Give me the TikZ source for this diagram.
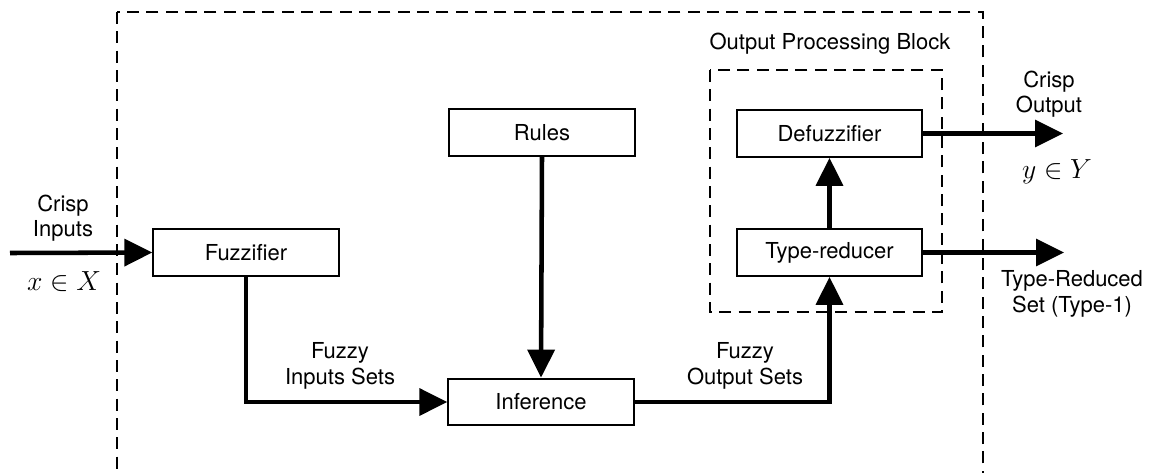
\documentclass[tikz,border=0pt]{standalone}
\usepackage{fontspec}
\setmainfont{TeX Gyre Heros}
\usetikzlibrary{arrows.meta}

\begin{document}
\begin{tikzpicture}[x=0.75pt, y=-0.75pt,
    font=\fontsize{16.5}{19}\selectfont,
    block/.style={draw, line width=1.5pt, minimum width=139pt, minimum height=35pt, inner sep=0pt},
    flow/.style={line width=3.4pt, -{Triangle[length=21pt, width=20pt]}},
    frame/.style={line width=0.8pt, dash pattern=on 9pt off 5.5pt},
    label/.style={align=center, inner sep=0pt},
    mathlabel/.style={inner sep=0pt, font=\fontsize{22}{24}\selectfont}]

  % Page size and clipping of the open system frame
  \useasboundingbox (0,0) rectangle (1153,472);
  \clip (0,0) rectangle (1153,472);

  % Dashed frames
  \draw[frame] (117,12) rectangle (983,520);
  \draw[frame] (710,70) rectangle (942,312);
  \node[label] (opb) at (830,44) {Output Processing Block};

  % Processing blocks
  \node[block] (fuzz)   at (246,252.5) {Fuzzifier};
  \node[block] (rules)  at (542,132.5) {Rules};
  \node[block] (infer)  at (541,402)   {Inference};
  \node[block] (defuzz) at (829.5,133.5) {Defuzzifier};
  \node[block] (tred)   at (829.5,252.5) {Type-reducer};

  % Free ends of the input and output arrows
  \coordinate (xin)  at (10,253);
  \coordinate (yout) at (1063,133.5);
  \coordinate (tout) at (1064,252.5);

  % Signal flow
  \draw[flow] (xin) -- (fuzz.west);
  \draw[flow] (fuzz.south) |- (infer.west);
  \draw[flow] (rules.south) -- (infer.north);
  \draw[flow] (infer.east) -| (tred.south);
  \draw[flow] (tred.north) -- (defuzz.south);
  \draw[flow] (defuzz.east) -- (yout);
  \draw[flow] (tred.east) -- (tout);

  % Signal labels
  \node[label] (cin)  at (63,218)   {Crisp\\Inputs};
  \node[mathlabel] (xval) at (64,282)  {$x\in X$};
  \node[label] (fis)  at (340,366)  {Fuzzy\\Inputs Sets};
  \node[label] (fos)  at (745,366)  {Fuzzy\\Output Sets};
  \node[label] (cout) at (1049,94)  {Crisp\\Output};
  \node[mathlabel] (yval) at (1057,172) {$y\in Y$};
  \node[label] (trs)  at (1072,294) {Type-Reduced\\Set (Type-1)};

\end{tikzpicture}
\end{document}
